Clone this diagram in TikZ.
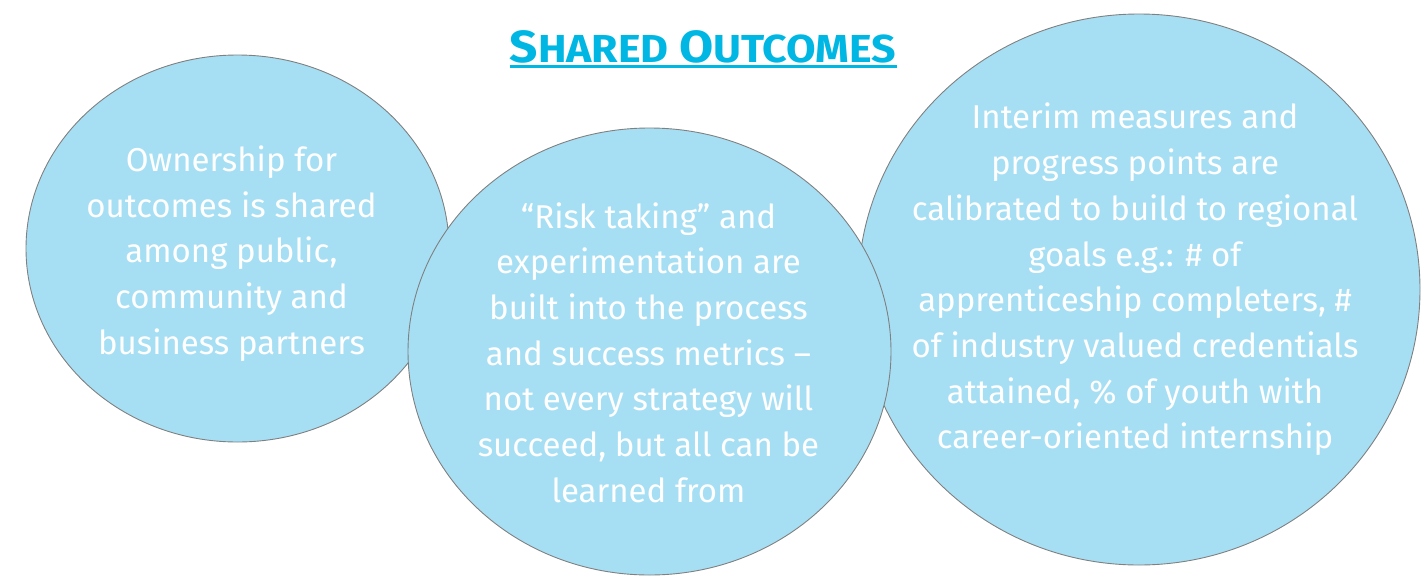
\documentclass[tikz,border=0pt]{standalone}
\usepackage{fontspec}
\setmainfont{Fira Sans}
\newfontfamily\titlefont[FakeStretch=1.1]{Fira Sans}
\usepackage{tikz}
\usetikzlibrary{positioning, calc, shapes.geometric}
\definecolor{bubble-blue}{RGB}{166,223,243}
\definecolor{bubble-edge}{RGB}{128,128,128}
\definecolor{title-cyan}{RGB}{0,183,228}

\begin{document}
\begin{tikzpicture}[x=1pt, y=-1pt,
		bubble/.style={ellipse, draw=bubble-edge, fill=bubble-blue, line width=0.9pt, inner sep=0pt},
		bubbletext/.style={text=white, align=center, font=\fontsize{33}{45.7}\selectfont}]
			\useasboundingbox (0,0) rectangle (1424,576);
			% title
			\node[text=title-cyan, font=\titlefont\bfseries, inner sep=0pt, anchor=base] (title) at (703,62)
				{{\fontsize{45}{45}\selectfont S}{\fontsize{39}{39}\selectfont HARED }{\fontsize{45}{45}\selectfont O}{\fontsize{39}{39}\selectfont UTCOMES}};
			\draw[title-cyan, line width=3pt] ($(title.base west)+(0,4)$) -- ($(title.base east)+(0,4)$);
			% bubbles
			\node[bubble, minimum width=423pt, minimum height=387pt] (b1) at (237.5,248.5) {};
			\node[bubble, minimum width=562pt, minimum height=551pt] (b3) at (1139,289.5) {};
			\node[bubble, minimum width=483pt, minimum height=447pt] (b2) at (649.5,351.5) {};
			\node[bubbletext] (t1) at ($(b1.center)+(-6,5)$) {Ownership for\\outcomes is shared\\among public,\\community and\\business partners};
			\node[bubbletext] (t2) at ($(b2.center)+(-1,1)$) {“Risk taking” and\\experimentation are\\built into the process\\and success metrics –\\not every strategy will\\succeed, but all can be\\learned from};
			\node[bubbletext] (t3) at ($(b3.center)+(-4,-10)$) {Interim measures and\\progress points are\\calibrated to build to regional\\goals e.g.: \# of\\apprenticeship completers, \#\\of industry valued credentials\\attained, \% of youth with\\career-oriented internship};
		\end{tikzpicture}
\end{document}
